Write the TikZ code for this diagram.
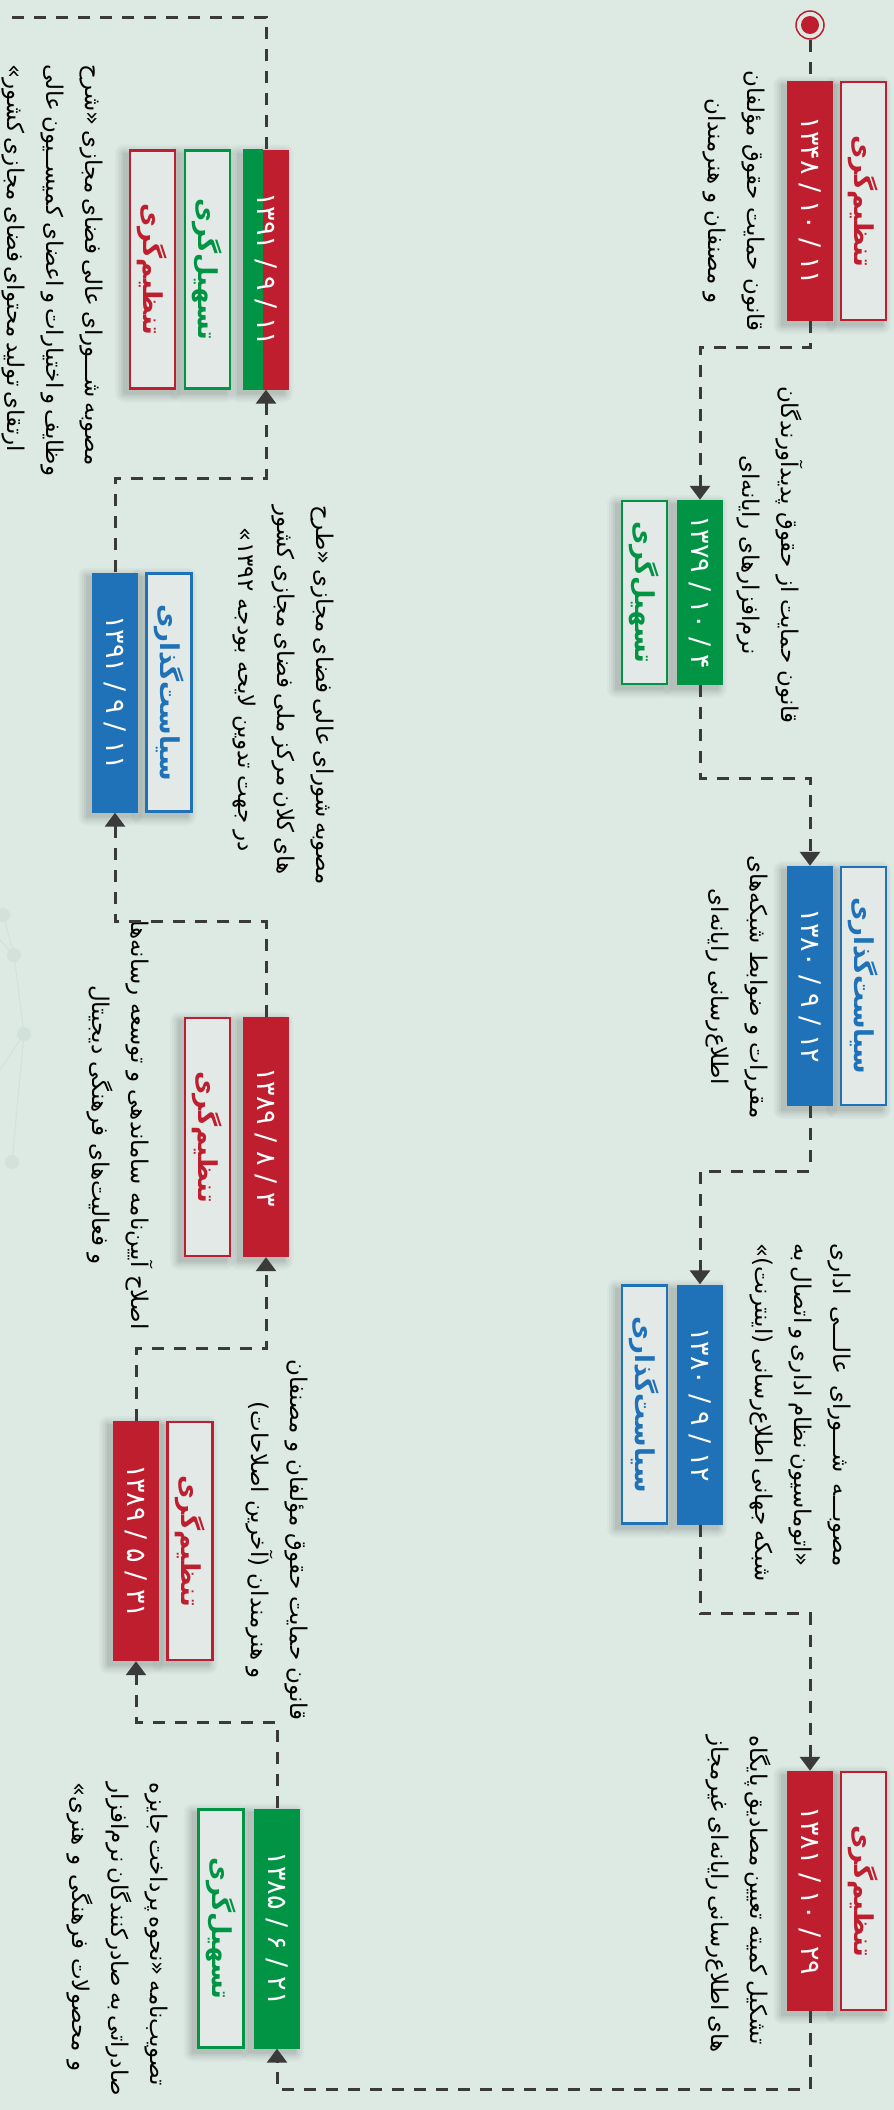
\documentclass[tikz,border=0pt]{standalone}
\usepackage{fontspec}
\usetikzlibrary{arrows.meta}
\TeXXeTstate=1
\newfontfamily\fa[Script=Arabic]{DejaVu Sans}
\definecolor{cred}{RGB}{190,30,45}
\definecolor{cgreen}{RGB}{0,148,68}
\definecolor{cblue}{RGB}{31,113,184}
\definecolor{cline}{RGB}{58,58,58}
\definecolor{bgc}{RGB}{221,234,228}
\definecolor{lblc}{RGB}{227,233,230}
\definecolor{netc}{RGB}{211,225,219}
\newcommand{\shd}[4]{%
  \foreach \s/\o in {9/0.025,7/0.03,5/0.035,3/0.04,1/0.05}{%
    \fill[black,opacity=\o,rounded corners=\s pt] (#1-#3/2-\s-5,#2-#4/2-\s+4) rectangle (#1+#3/2+\s-5,#2+#4/2+\s+4);}}
\begin{document}
\begin{tikzpicture}[x=1pt,y=-1pt,
  conn/.style={draw=cline, line width=3pt, dash pattern=on 12pt off 10pt},
  arr/.style={conn, -{Triangle[width=20pt,length=14pt]}},
  datebox/.style={rotate=-90, minimum width=240pt, minimum height=46pt, inner sep=0pt, text=white, font=\fa\fontsize{27}{27}\selectfont},
  lblbox/.style={rotate=-90, minimum width=238pt, minimum height=45pt, inner sep=0pt, line width=2.2pt, fill=lblc, draw=#1, text=#1, font=\fa\bfseries\fontsize{26}{26}\selectfont},
  txt/.style={rotate=-90, align=center, inner sep=0pt, font=\fa\fontsize{23}{39}\selectfont}]
\useasboundingbox (0,0) rectangle (894,2110);
\fill[bgc] (0,0) rectangle (894,2110);
% faint network decoration
\begin{scope}[netc, line width=1pt]
  \draw (3,915) -- (14,955) -- (24,1034) -- (12,1162);
  \draw (24,1034) -- (0,1070); \draw (14,955) -- (0,940);
  \foreach \p in {(3,915),(14,955),(24,1034),(12,1162)} \fill \p circle[radius=7pt];
\end{scope}
% shadows
\shd{810}{201}{46}{240} \shd{863.5}{201}{47}{240}
\shd{700}{592.5}{46}{185} \shd{644.5}{592.5}{47}{185}
\shd{810}{986}{46}{240} \shd{863.5}{986}{47}{240}
\shd{700}{1404.5}{46}{240} \shd{644.5}{1404.5}{47}{240}
\shd{810}{1891}{46}{240} \shd{863.5}{1891}{47}{240}
\shd{277}{1928.5}{46}{240} \shd{221}{1928.5}{47}{240}
\shd{136}{1541}{46}{240} \shd{190}{1541}{47}{240}
\shd{266}{1137}{46}{240} \shd{207.5}{1137}{47}{240}
\shd{115}{692.5}{46}{240} \shd{169}{692.5}{47}{240}
\shd{266}{269.5}{46}{240} \shd{207.5}{269.5}{47}{240} \shd{152.5}{269.5}{47}{240}
% start marker
\node[circle, draw=cred, line width=1.5pt, fill=bgc, minimum size=28pt, inner sep=0pt] (start) at (810,25) {};
\fill[cred] (start.center) circle[radius=9pt];
% date boxes (logical order day / month / year, shown right to left)
\node[datebox, fill=cred] (d1) at (810,201) {\beginR ۱۱ / ۱۰ / ۱۳۴۸\endR};
\node[datebox, fill=cgreen, minimum width=185pt] (d2) at (700,592.5) {\beginR ۴ / ۱۰ / ۱۳۷۹\endR};
\node[datebox, fill=cblue] (d3) at (810,986) {\beginR ۱۲ / ۹ / ۱۳۸۰\endR};
\node[datebox, fill=cblue] (d4) at (700,1404.5) {\beginR ۱۲ / ۹ / ۱۳۸۰\endR};
\node[datebox, fill=cred] (d5) at (810,1891) {\beginR ۲۹ / ۱۰ / ۱۳۸۱\endR};
\node[datebox, fill=cgreen] (d11) at (277,1928.5) {\beginR ۲۱ / ۶ / ۱۳۸۵\endR};
\node[datebox, fill=cred] (d10) at (136,1541) {\beginR ۳۱ / ۵ / ۱۳۸۹\endR};
\node[datebox, fill=cred] (d9) at (266,1137) {\beginR ۳ / ۸ / ۱۳۸۹\endR};
\node[datebox, fill=cblue] (d8) at (115,692.5) {\beginR ۱۱ / ۹ / ۱۳۹۱\endR};
\node[datebox, fill=cred] (d7) at (266,269.5) {};
\fill[cgreen] (d7.south west) rectangle ([xshift=20pt]d7.south east);
\node[datebox] (d7t) at (d7.center) {\beginR ۱۱ / ۹ / ۱۳۹۱\endR};
% label boxes
\node[lblbox=cred] (l1) at (863.5,201) {\beginR تنظیم‌گری\endR};
\node[lblbox=cgreen, minimum width=183pt] (l2) at (644.5,592.5) {\beginR تسهیل‌گری\endR};
\node[lblbox=cblue] (l3) at (863.5,986) {\beginR سیاست‌گذاری\endR};
\node[lblbox=cblue] (l4) at (644.5,1404.5) {\beginR سیاست‌گذاری\endR};
\node[lblbox=cred] (l5) at (863.5,1891) {\beginR تنظیم‌گری\endR};
\node[lblbox=cgreen] (l11) at (221,1928.5) {\beginR تسهیل‌گری\endR};
\node[lblbox=cred] (l10) at (190,1541) {\beginR تنظیم‌گری\endR};
\node[lblbox=cred] (l9) at (207.5,1137) {\beginR تنظیم‌گری\endR};
\node[lblbox=cblue] (l8) at (169,692.5) {\beginR سیاست‌گذاری\endR};
\node[lblbox=cgreen] (l7g) at (207.5,269.5) {\beginR تسهیل‌گری\endR};
\node[lblbox=cred] (l7r) at (152.5,269.5) {\beginR تنظیم‌گری\endR};
% descriptions
\node[txt] (t1) at (734,201) {\beginR قانون حمایت حقوق مؤلفان\endR\\\beginR و مصنفان و هنرمندان\endR};
\node[txt] (t2) at (770,555) {\beginR قانون حمایت از حقوق پدیدآورندگان\endR\\\beginR نرم‌افزارهای رایانه‌ای\endR};
\node[txt] (t3) at (737,987) {\beginR مقررات و ضوابط شبکه‌های\endR\\\beginR اطلاع‌رسانی رایانه‌ای\endR};
\node[txt] (t4) at (800,1405) {\hbox to 324pt{\beginR مصوبـــه شـــورای عالـــی اداری\endR}\\\hbox to 324pt{\beginR «اتوماسیون نظام اداری و اتصال به\endR}\\\hbox to 324pt{\beginR شبکه جهانی اطلاع‌رسانی (اینترنت)»\endR}};
\node[txt] (t5) at (738,1885) {\hbox to 300pt{\beginR تشکیل کمیته تعیین مصادیق پایگاه\endR}\\\hbox to 300pt{\beginR های اطلاع‌رسانی رایانه‌ای غیرمجاز\endR}};
\node[txt] (t7) at (52,251) {\hbox to 373pt{\beginR مصوبه شـــورای عالی فضای مجازی «شرح\endR}\\\hbox to 373pt{\beginR وظایف و اختیارات و اعضای کمیســیون عالی\endR}\\\hbox to 373pt{\beginR ارتقای تولید محتوای فضای مجازی کشور»\endR}};
\node[txt] (t8) at (283,690) {\hbox to 370pt{\beginR مصوبه شورای عالی فضای مجازی «طرح\endR}\\\hbox to 370pt{\beginR های کلان مرکز ملی فضای مجازی کشور\endR}\\\beginR در جهت تدوین لایحه بودجه ۱۳۹۲»\endR};
\node[txt] (t9) at (120,1125) {\beginR اصلاح آیین‌نامه ساماندهی و توسعه رسانه‌ها\endR\\\beginR و فعالیت‌های فرهنگی دیجیتال\endR};
\node[txt] (t10) at (277,1540) {\beginR قانون حمایت حقوق مؤلفان و مصنفان\endR\\\beginR و هنرمندان (آخرین اصلاحات)\endR};
\node[txt] (t11) at (117,1927) {\hbox to 290pt{\beginR تصویب‌نامه «نحوه پرداخت جایزه\endR}\\\hbox to 290pt{\beginR صادراتی به صادرکنندگان نرم‌افزار\endR}\\\hbox to 290pt{\beginR و محصولات فرهنگی و هنری»\endR}};
% connectors
\coordinate (tl) at (6,17);
\draw[conn] (start.south) -- (d1.west);
\draw[arr] (d1.east) -- ++(0,26) -| (d2.west);
\draw[arr] (d2.east) -- ++(0,93) -| (d3.west);
\draw[arr] (d3.east) -- ++(0,65) -| (d4.west);
\draw[arr] (d4.east) -- ++(0,89) -| (d5.west);
\draw[arr] (d5.east) -- ++(0,78) -| (d11.east);
\draw[arr] (d11.west) -- ++(0,-86) -| (d10.east);
\draw[arr] (d10.west) -- ++(0,-72) -| (d9.east);
\draw[arr] (d9.west) -- ++(0,-95) -| (d8.east);
\draw[arr] (d8.west) -- ++(0,-94) -| (d7.east);
\draw[conn] (d7.west) |- (tl);
\end{tikzpicture}
\end{document}
